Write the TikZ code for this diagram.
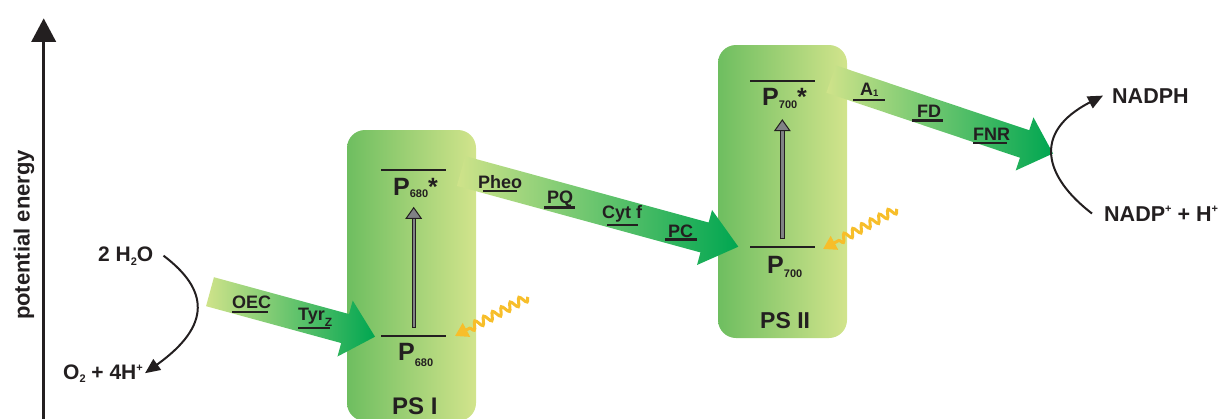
\documentclass[tikz,border=0pt]{standalone}
\usepackage{fontspec}
\setmainfont{Liberation Sans}
\usetikzlibrary{calc,arrows.meta,decorations.pathmorphing}
\definecolor{ink}{RGB}{35,31,32}
\definecolor{gfill}{RGB}{128,130,133}
\definecolor{sun}{RGB}{247,190,42}
\definecolor{deep}{RGB}{0,166,81}
\definecolor{pale}{RGB}{207,227,138}
\definecolor{boxL}{RGB}{110,190,96}
\definecolor{boxR}{RGB}{210,228,140}
\newcommand\fs[1]{\fontsize{#1}{#1}\selectfont}
\newcommand\lowr[3]{\raisebox{-#1}{\fs{#2}#3}}
\newcommand\upr[3]{\raisebox{#1}{\fs{#2}#3}}
% big shaded arrow: #1 tail, #2 tip, #3 half shaft, #4 half head, #5 head length
\newcommand\bigarr[5]{%
  \path ($(#2)!#5!(#1)$) coordinate (hb);
  \shade[arrshade] ($(#1)!#3!90:(#2)$) -- ($(hb)!#3!90:(#2)$) -- ($(hb)!#4!90:(#2)$) -- (#2)
    -- ($(hb)!#4!-90:(#2)$) -- ($(hb)!#3!-90:(#2)$) -- ($(#1)!#3!-90:(#2)$) -- cycle;}
% grey excitation arrow: #1 bottom, #2 tip
\newcommand\grayarr[2]{%
  \draw[line width=4.4pt, ink] (#1) -- ($(#2)+(0,10)$);
  \draw[line width=2.4pt, gfill] ($(#1)+(0,-1)$) -- ($(#2)+(0,10)$);
  \filldraw[fill=gfill, draw=ink, line width=1pt, line join=miter] (#2) -- ($(#2)+(-7.5,10.6)$) -- ($(#2)+(7.5,10.6)$) -- cycle;}
% underline: #1 node, #2 dx, #3 dy, #4 length
\newcommand\ulin[4]{\draw[ulstyle] ($(#1.base west)+(#2,#3)$) -- ++(#4,0);}
\begin{document}
\begin{tikzpicture}[x=1pt,y=-1pt,
  txt/.style={inner sep=0pt, text=ink, font=\bfseries\fs{21}},
  lbl/.style={inner sep=0pt, text=ink, font=\bfseries\fs{18}, anchor=base west},
  plab/.style={inner sep=0pt, text=ink, font=\bfseries\fs{25}, anchor=base west},
  ulstyle/.style={draw=ink, line width=2.4pt},
  level/.style={draw=ink, line width=2pt},
  psbox/.style={shade, left color=boxL, right color=boxR, rounded corners=18pt, inner sep=0pt, draw=none},
  arrshade/.style={left color=pale, right color=deep},
  wavy/.style={draw=sun, line width=3pt, decorate,
    decoration={snake, amplitude=4pt, segment length=10pt, post length=13pt},
    -{Triangle[length=13pt,width=15pt]}},
  curv/.style={draw=ink, line width=2pt, -{Triangle[length=15pt,width=13pt]}},
]
\useasboundingbox (0,0) rectangle (1222,418);
\clip (0,0) rectangle (1222,418);

% photosystem boxes
\node[psbox, minimum width=129pt, minimum height=291pt] (ps1) at (411.5,275.5) {};
\node[psbox, minimum width=129pt, minimum height=293pt] (ps2) at (782.5,191.5) {};

% axis
\coordinate (axb) at (43.7,425);
\coordinate (axt) at (43.7,18.3);
\draw[line width=3.5pt, ink, -{Triangle[length=23.5pt,width=24pt]}] (axb) -- (axt);
\node[txt, font=\bfseries\fs{22}, rotate=90] (pe) at (24,235) {potential energy};

% coordinates of electron transport arrows
\coordinate (t1) at (210,291.7);
\coordinate (e1) at (375,336.7);
\coordinate (t2) at (461,171);
\coordinate (e2) at (738.3,246.7);
\coordinate (t3) at (831,79);
\coordinate (e3) at (1053,153.5);
\bigarr{t1}{e1}{15pt}{29pt}{31pt}
\bigarr{t2}{e2}{15.5pt}{28.5pt}{35pt}
\bigarr{t3}{e3}{14.5pt}{28pt}{30pt}

% energy levels
\coordinate (l1a) at (381,170); \coordinate (l1b) at (446,170);
\coordinate (l2a) at (381,336); \coordinate (l2b) at (446,336);
\coordinate (l3a) at (750,81);  \coordinate (l3b) at (815,81);
\coordinate (l4a) at (750,247); \coordinate (l4b) at (815,247);
\draw[level] (l1a) -- (l1b);
\draw[level] (l2a) -- (l2b);
\draw[level] (l3a) -- (l3b);
\draw[level] (l4a) -- (l4b);

% excitation arrows
\coordinate (g1b) at (413.7,328); \coordinate (g1t) at (413.7,207.7);
\coordinate (g2b) at (782.3,239.3); \coordinate (g2t) at (782.3,120);
\grayarr{g1b}{g1t}
\grayarr{g2b}{g2t}

% light
\coordinate (s1) at (528,297); \coordinate (s1e) at (455,336);
\coordinate (s2) at (897,209); \coordinate (s2e) at (823,249);
\draw[wavy] (s1) -- (s1e);
\draw[wavy] (s2) -- (s2e);

% level labels
\node[plab] (p680s) at (393,195) {P\lowr{2.7pt}{11}{680}*};
\node[plab] (p680) at (398,360) {P\lowr{6.5pt}{11}{680}};
\node[plab] (p700s) at (762,105) {P\lowr{3.3pt}{11}{700}*};
\node[plab] (p700) at (767,273.3) {P\lowr{4pt}{11}{700}};
\node[plab, font=\bfseries\fs{24}] (psI) at (392,414) {PS I};
\node[plab, font=\bfseries\fs{23}] (psII) at (760,328) {PS II};

% carrier labels
\node[lbl] (oec) at (232,308) {OEC};
\node[lbl] (tyr) at (298,320.5) {Tyr\lowr{6pt}{12}{Z}};
\node[lbl] (pheo) at (478,188.3) {Pheo};
\node[lbl] (pq) at (547,203) {PQ};
\node[lbl] (cyt) at (602,218) {Cyt f};
\node[lbl] (pc) at (668,237) {PC};
\node[lbl] (a1) at (860,95) {A\lowr{1.7pt}{9.5}{1}};
\node[lbl] (fd) at (917,117) {FD};
\node[lbl] (fnr) at (973,140.5) {FNR};
\ulin{oec}{0}{3.7}{36}
\ulin{tyr}{0}{7.5}{32}
\ulin{pheo}{5}{2.5}{34}
\ulin{pq}{-3}{4.3}{31}
\ulin{cyt}{5}{7}{31}
\ulin{pc}{-3}{2.5}{32}
\ulin{a1}{-7}{5}{32}
\ulin{fd}{-5}{3.5}{31}
\ulin{fnr}{0}{2.5}{34}

% substrates and products
\node[txt, anchor=base west] (h2o) at (98,261) {2 H\lowr{4pt}{11}{2}O};
\node[txt, anchor=base west] (o2) at (63,379) {O\lowr{3pt}{11}{2} + 4H\upr{8pt}{11}{+}};
\node[txt, anchor=base west, font=\bfseries\fs{21.5}] (nadph) at (1112,103) {NADPH};
\node[txt, anchor=base west, font=\bfseries\fs{21.5}] (nadp) at (1104,221) {NADP\upr{8.5pt}{11}{+} + H\upr{8.5pt}{11}{+}};

\draw[curv] ([xshift=10pt]h2o.east) .. controls +(45,34) and +(67,-48) .. ([xshift=2pt]o2.east);
\draw[curv] ([xshift=-12pt]nadp.west) .. controls +(-47,-36) and +(-72,37) .. ([xshift=-9pt]nadph.west);
\end{tikzpicture}
\end{document}
